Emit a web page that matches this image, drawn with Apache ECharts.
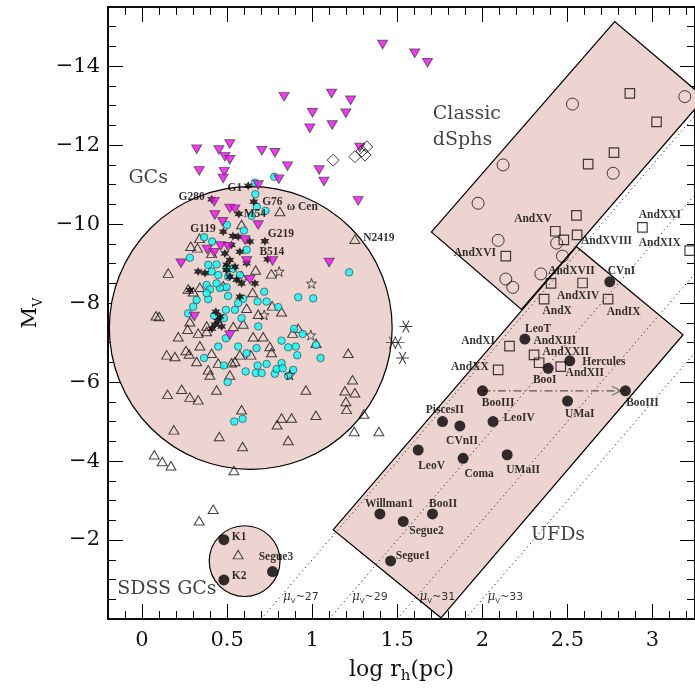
<!DOCTYPE html>
<html><head><meta charset="utf-8">
<script src="https://cdn.jsdelivr.net/npm/echarts@6/dist/echarts.min.js"></script>
<style>html,body{margin:0;padding:0;background:#fff}#c{width:695px;height:690px}</style>
</head><body><div id="c"></div>
<script>
// ---------------- ticks ----------------
const xMajorTicks = [0, 0.5, 1, 1.5, 2, 2.5, 3];
const xMinorTicks = [-0.1,0.1,0.2,0.3,0.4,0.6,0.7,0.8,0.9,1.1,1.2,1.3,1.4,1.6,1.7,1.8,1.9,2.1,2.2,2.3,2.4,2.6,2.7,2.8,2.9,3.1,3.2];
const yMajorTicks = [-14, -12, -10, -8, -6, -4, -2];
const yMinorTicks = [-15,-14.5,-13.5,-13,-12.5,-11.5,-11,-10.5,-9.5,-9,-8.5,-7.5,-7,-6.5,-5.5,-5,-4.5,-3.5,-3,-2.5,-1.5,-1,-0.5];

// ---------------- regions ----------------
const classicBox = [[1.70,-9.80],[2.778,-15.13],[3.307,-13.20],[2.230,-7.84]];
const ufdBox = [[1.123,-2.26],[2.554,-9.43],[3.180,-7.20],[1.757,-0.03]];
const gcCircle = [0.639, -7.37, 0.831];     // centre x, centre y, radius (x units)
const sdssCircle = [0.603, -1.466, 0.208];

// constant surface brightness lines (end points)
const mu27 = [[0.70,0],[3.25,-12.75]];
const mu29 = [[1.10,0],[3.25,-10.75]];
const mu31 = [[1.50,0],[3.25,-8.75]];
const mu33 = [[1.90,0],[3.25,-6.75]];

// ---------------- points ----------------
const magentaTri = [
[1.414,-14.55],[1.603,-14.33],[1.678,-14.09],[0.835,-13.23],[1.114,-13.31],[1.226,-13.14],[1.002,-12.82],[1.198,-12.81],[0.986,-12.43],[1.118,-12.51],
[0.321,-11.90],[0.452,-11.88],[0.516,-12.03],[0.487,-11.71],[0.516,-11.63],[0.704,-11.86],[0.781,-11.81],[0.855,-11.47],[0.336,-11.35],[0.483,-11.33],
[0.477,-11.16],[0.804,-11.14],[0.683,-10.99],[1.041,-11.37],[1.069,-11.08],[1.280,-11.94],[1.270,-10.59],[0.424,-10.57],[0.516,-10.40],[0.546,-10.38],
[0.428,-10.23],[0.474,-10.06],[0.683,-9.98],[0.605,-9.60],[0.383,-9.36],[0.424,-9.28],[0.462,-9.45],[0.506,-9.43],[0.229,-9.01],[0.615,-9.07],
[0.767,-9.07],[1.100,-9.03],[0.634,-8.59],[0.307,-7.66],[0.516,-7.19]
];
const diamonds = [[1.123,-11.62],[1.251,-11.71],[1.292,-11.85],[1.310,-11.75],[1.321,-11.96]];
const blackStars = [
[0.624,-10.97],[0.409,-10.63],[0.657,-10.57],[0.569,-10.26],[0.477,-9.81],[0.722,-9.57],[0.738,-9.11],
[0.565,-9.68],[0.634,-9.56],[0.526,-9.47],[0.575,-9.30],[0.487,-9.26],[0.516,-9.09],[0.615,-9.01],[0.330,-8.80],[0.370,-8.76],[0.497,-8.97],
[0.546,-8.92],[0.516,-8.67],[0.556,-8.59],[0.585,-8.50],[0.663,-8.50],[0.575,-8.16],[0.281,-8.33],[0.434,-7.78],[0.458,-7.66],[0.428,-7.45],
[0.468,-7.41],[0.446,-7.55],[0.534,-9.70],[0.497,-8.84],[0.411,-7.35]
];
const openStars = [[0.806,-8.80],[0.996,-8.50],[0.718,-7.70],[0.992,-7.19],[0.869,-6.18]];
const asterisks = [[1.551,-7.41],[1.472,-7.00],[1.505,-7.00],[1.531,-6.61]];
const cyanGC = [
[0.777,-11.20],[0.663,-11.05],[0.666,-10.76],[0.675,-10.44],[0.726,-10.34],[0.644,-10.21],[0.599,-9.84],[0.499,-9.98],[0.365,-9.67],[0.412,-9.56],
[0.615,-9.35],[0.281,-9.15],[0.389,-8.97],[0.438,-8.98],[0.497,-8.88],[0.536,-8.87],[0.409,-8.80],[0.448,-8.71],[0.575,-8.71],[0.380,-8.46],
[0.399,-8.35],[0.497,-8.40],[0.458,-8.38],[0.718,-8.29],[0.918,-8.15],[1.006,-8.12],[1.217,-8.78],[0.321,-8.08],[0.389,-8.10],[0.595,-8.11],
[0.679,-8.04],[0.732,-8.04],[0.800,-7.90],[0.565,-8.00],[0.301,-7.91],[0.546,-7.83],[0.493,-7.83],[0.271,-7.74],[0.424,-7.68],[0.481,-7.62],
[0.585,-7.62],[0.683,-7.41],[0.493,-7.11],[0.565,-6.90],[0.448,-6.90],[0.615,-6.73],[0.673,-6.86],[0.820,-7.05],[0.894,-7.35],[0.944,-7.22],
[0.904,-6.90],[0.859,-6.88],[0.912,-6.68],[1.022,-6.94],[1.049,-6.61],[0.365,-6.61],[0.481,-6.42],[0.732,-6.46],[0.679,-6.42],[0.820,-6.48],
[0.609,-6.27],[0.669,-6.23],[0.703,-6.23],[0.781,-6.21],[0.791,-6.33],[0.826,-6.35],[0.859,-6.16],[0.888,-6.31],[0.503,-6.00],[0.542,-5.00],
[0.591,-5.07],[0.506,-8.67],[0.438,-8.50],[0.380,-8.25],[0.506,-8.18]
];
const openTri = [
[0.810,-10.32],[0.585,-9.99],[0.338,-9.64],[0.286,-9.44],[0.326,-9.40],[0.154,-8.76],[0.668,-8.84],[0.760,-8.74],[0.585,-8.69],[0.271,-8.36],
[0.301,-8.29],[0.340,-8.40],[0.650,-8.27],[0.477,-8.44],[0.101,-7.66],[0.082,-7.68],[0.213,-7.15],[0.268,-7.34],[0.281,-7.53],[0.330,-7.24],
[0.380,-7.28],[0.380,-7.42],[0.536,-7.41],[0.595,-7.47],[0.615,-7.87],[0.683,-7.72],[0.765,-7.93],[0.820,-7.78],[0.653,-7.15],[0.712,-7.15],
[0.751,-6.90],[0.761,-6.75],[0.885,-7.24],[0.918,-7.36],[1.023,-6.98],[1.212,-6.73],[0.145,-6.69],[0.193,-6.65],[0.258,-6.80],[0.340,-6.92],
[0.277,-6.71],[0.321,-6.52],[0.409,-6.73],[0.448,-6.48],[0.526,-6.49],[0.546,-6.52],[0.575,-6.69],[0.640,-6.69],[0.389,-6.31],[0.399,-6.18],
[0.516,-6.18],[0.150,-5.69],[0.233,-5.82],[0.281,-5.62],[0.330,-5.55],[0.438,-5.80],[0.963,-5.80],[1.192,-5.78],[1.198,-5.51],[1.202,-5.31],
[0.585,-5.30],[1.022,-5.16],[0.820,-5.09],[0.879,-5.09],[0.794,-4.92],[0.187,-4.79],[0.454,-4.62],[0.859,-4.52],[0.591,-4.37],[1.237,-6.06],
[1.251,-5.73],[1.304,-5.19],[1.247,-4.75],[1.392,-4.75],[1.251,-9.62],[0.072,-4.16],[0.119,-3.99],[0.170,-3.88],[0.540,-3.76],[0.418,-2.78],
[0.336,-2.49],[0.565,-1.63],[0.409,-9.26]
];
const filledDots = [
[2.749,-8.54],[2.250,-7.09],[2.387,-6.35],[2.514,-6.54],[2.001,-5.78],[2.841,-5.78],[2.501,-5.52],[2.063,-5.00],[2.146,-4.16],[1.766,-5.00],
[1.868,-4.89],[1.623,-4.28],[1.887,-4.07],[1.398,-2.66],[1.535,-2.47],[1.707,-2.66],[1.461,-1.47],[0.481,-2.01],[0.481,-0.99],[0.767,-1.20]
];
const classicCircles = [[1.975,-10.53],[2.122,-11.50],[2.530,-13.04],[3.190,-13.23],[2.769,-11.29],[2.093,-9.59],[2.437,-9.52],[2.471,-9.19],[2.344,-8.74],[2.138,-8.61],[2.179,-8.40]];
const andSquares = [[2.867,-13.31],[3.024,-12.59],[2.774,-11.81],[2.622,-11.52],[2.553,-10.22],[2.429,-9.82],[2.479,-9.60],[2.557,-9.73],[2.941,-9.92],[3.219,-9.33],
[2.138,-9.19],[2.404,-8.50],[2.589,-8.51],[2.363,-8.10],[2.739,-8.10],[2.160,-6.91],[2.304,-6.69],[2.334,-6.49],[2.461,-6.39],[2.093,-6.31]];
const booIIIArrow = [[2.001,-5.78],[2.841,-5.78]];

// ---------------- text annotations ----------------
const bigLabels = [['GCs',0.036,-11.18,'center'],['Classic',1.709,-12.79,'left'],['dSphs',1.709,-12.12,'left'],['UFDs',2.445,-2.13,'center'],['SDSS GCs',0.146,-0.75,'center']];
const pointLabels = [
['G1',0.546,-10.92],['G280',0.291,-10.68],['G76',0.766,-10.57],['M54',0.663,-10.26],['ω Cen',0.942,-10.44],['G119',0.358,-9.88],['G219',0.816,-9.75],['B514',0.763,-9.30],['N2419',1.392,-9.66],
['AndXV',2.298,-10.12],['AndXVIII',2.730,-9.58],['AndXVI',1.956,-9.28],['AndXXI',3.043,-10.23],['AndXIX',3.043,-9.52],['AndXVII',2.524,-8.82],['CVnI',2.818,-8.82],['AndXIV',2.563,-8.18],
['AndX',2.440,-7.80],['AndIX',2.831,-7.78],['LeoT',2.328,-7.35],['AndXIII',2.426,-7.04],['AndXI',1.975,-7.03],['AndXXII',2.491,-6.75],['Hercules',2.714,-6.50],['AndXII',2.602,-6.23],
['AndXX',1.927,-6.38],['BooI',2.367,-6.06],['BooIII',2.093,-5.47],['BooIII',2.941,-5.47],['UMaI',2.573,-5.19],['LeoIV',2.216,-5.09],['PiscesII',1.780,-5.30],['CVnII',1.881,-4.52],
['LeoV',1.702,-3.88],['Coma',1.981,-3.68],['UMaII',2.240,-3.78],['Willman1',1.452,-2.92],['BooII',1.770,-2.92],['Segue2',1.672,-2.24],['Segue1',1.593,-1.60],
['K1',0.571,-2.07],['K2',0.571,-1.08],['Segue3',0.787,-1.57]
];
const muLabels = [['27',0.934,-0.56],['29',1.339,-0.56],['31',1.736,-0.56],['33',2.135,-0.56]];

// ---------------- styling ----------------
const PINK = '#edd4d0';
const SERIF = 'DejaVu Serif';
const STAR6 = 'path://M0,-10 L2.6,-4.5 L8.66,-5 L5.2,0 L8.66,5 L2.6,4.5 L0,10 L-2.6,4.5 L-8.66,5 L-5.2,0 L-8.66,-5 L-2.6,-4.5 Z';
const STAR5 = 'path://M0,-10 L2.35,-3.24 L9.51,-3.09 L3.8,1.24 L5.88,8.09 L0,4 L-5.88,8.09 L-3.8,1.24 L-9.51,-3.09 L-2.35,-3.24 Z';
const AST = 'path://M-10,0 L10,0 M-5,-8.66 L5,8.66 M-5,8.66 L5,-8.66';
const CHEV = 'path://M0,0 L10,5 L0,10';

function xAx(pos, ticks, len, showLabel, name) {
  const a = {type:'value', position:pos, min:-0.2, max:3.25, splitLine:{show:false},
    axisLine:{show:true, onZero:false, lineStyle:{color:'#000', width:1.6}},
    axisTick:{show:true, inside:true, length:len, customValues:ticks, lineStyle:{color:'#000', width:1}},
    axisLabel:{show:showLabel, customValues:ticks, margin:11, fontFamily:SERIF, fontSize:21, color:'#111'}};
  if (name) {
    a.name = name; a.nameLocation = 'middle'; a.nameGap = 36;
    a.nameTextStyle = {fontFamily:SERIF, fontSize:22, color:'#111', lineHeight:28,
      rich:{sub:{fontFamily:SERIF, fontSize:15, color:'#111', verticalAlign:'bottom', lineHeight:15}}};
  }
  return a;
}
function yAx(pos, ticks, len, showLabel, name) {
  const a = {type:'value', position:pos, min:-15.5, max:0, inverse:true, splitLine:{show:false},
    axisLine:{show:true, onZero:false, lineStyle:{color:'#000', width:1.6}},
    axisTick:{show:true, inside:true, length:len, customValues:ticks, lineStyle:{color:'#000', width:1}},
    axisLabel:{show:showLabel, customValues:ticks, margin:8, fontFamily:SERIF, fontSize:21, color:'#111',
      formatter:v => '\u2212' + Math.abs(v)}};
  if (name) {
    a.name = name; a.nameLocation = 'middle'; a.nameGap = 50; a.nameRotate = 90;
    a.nameTextStyle = {fontFamily:SERIF, fontSize:21, color:'#111', lineHeight:28,
      rich:{sub:{fontFamily:SERIF, fontSize:13, color:'#111', verticalAlign:'bottom', lineHeight:13}}};
  }
  return a;
}

function polySeries(pts) {
  return {type:'custom', coordinateSystem:'cartesian2d', clip:true, silent:true, z:1, data:[pts[0]],
    renderItem:(p, api) => ({type:'polygon', shape:{points:pts.map(v => api.coord(v))},
      style:{fill:PINK, stroke:'#000', lineWidth:1.2}})};
}
function circSeries(c) {
  return {type:'custom', coordinateSystem:'cartesian2d', clip:true, silent:true, z:1, data:[[c[0], c[1]]],
    renderItem:(p, api) => { const ctr = api.coord([c[0], c[1]]); const r = api.size([c[2], 0])[0];
      return {type:'circle', shape:{cx:ctr[0], cy:ctr[1], r:r}, style:{fill:PINK, stroke:'#000', lineWidth:1.2}}; }};
}
function muLine(d) {
  return {type:'line', data:d, showSymbol:false, symbol:'none', silent:true, z:2,
    lineStyle:{color:'#222', width:1, type:[1.2,3.3]}};
}
function sc(data, symbol, size, style, extra) {
  return Object.assign({type:'scatter', data:data, symbol:symbol, symbolSize:size, itemStyle:style, silent:true, z:3}, extra || {});
}
const TRANS = 'rgba(0,0,0,0)';

const series = [
  circSeries(gcCircle), circSeries(sdssCircle), polySeries(classicBox), polySeries(ufdBox),
  muLine(mu27), muLine(mu29), muLine(mu31), muLine(mu33),
  {type:'line', data:booIIIArrow, symbol:'none', silent:true, z:2, lineStyle:{color:'#555', width:1.2, type:[8,3,1.5,3]}},
  sc([booIIIArrow[1]], CHEV, [9,9], {color:TRANS, borderColor:'#555', borderWidth:1.2}, {symbolOffset:[-9,0]}),
  sc(openTri, 'triangle', [10,8.5], {color:TRANS, borderColor:'#111', borderWidth:1}),
  sc(cyanGC, 'circle', 7.5, {color:'#00ffff', borderColor:'#333', borderWidth:0.8}),
  sc(blackStars, STAR6, 9, {color:'#000'}),
  sc(openStars, STAR5, 10, {color:TRANS, borderColor:'#111', borderWidth:0.9}),
  sc(magentaTri, 'triangle', [10,8.5], {color:'#ff00ff', borderColor:'#444', borderWidth:1}, {symbolRotate:180}),
  sc(diamonds, 'diamond', [12,12], {color:TRANS, borderColor:'#111', borderWidth:1}),
  sc(asterisks, AST, [13,12], {color:TRANS, borderColor:'#111', borderWidth:1}),
  sc(classicCircles, 'circle', 12, {color:TRANS, borderColor:'#111', borderWidth:1}),
  sc(andSquares, 'rect', 9.5, {color:TRANS, borderColor:'#111', borderWidth:1.2}),
  sc(filledDots, 'circle', 11, {color:'#000'}),
  {type:'scatter', silent:true, z:5, symbol:'circle', symbolSize:0.1, itemStyle:{color:TRANS},
    data:bigLabels.map(l => ({name:l[0], value:[l[1], l[2]], label:{align:l[3]}})),
    label:{show:true, position:'inside', formatter:'{b}', fontFamily:SERIF, fontSize:19, color:'#111'}},
  {type:'scatter', silent:true, z:5, symbol:'circle', symbolSize:0.1, itemStyle:{color:TRANS},
    data:pointLabels.map(l => ({name:l[0], value:[l[1], l[2]]})),
    label:{show:true, position:'inside', formatter:'{b}', fontFamily:'Liberation Serif', fontWeight:'bold', fontSize:11.5, color:'#000'}},
  {type:'scatter', silent:true, z:5, symbol:'circle', symbolSize:0.1, itemStyle:{color:TRANS},
    data:muLabels.map(l => ({name:l[0], value:[l[1], l[2]]})),
    label:{show:true, position:'inside', formatter:p => '{mu|μ}{sub|V}~' + p.name, fontFamily:'DejaVu Sans', fontSize:11, color:'#000', lineHeight:15,
      rich:{mu:{fontFamily:'DejaVu Serif', fontStyle:'italic', fontSize:12, color:'#000'},
            sub:{fontFamily:'DejaVu Sans', fontSize:7, color:'#000', verticalAlign:'bottom', lineHeight:8}}}}
];
series.forEach(s => { s.xAxisIndex = 0; s.yAxisIndex = 0; s.animation = false; });

const chart = echarts.init(document.getElementById('c'), null, {renderer:'canvas'});
chart.setOption({
  animation:false,
  backgroundColor:'#fff',
  grid:{left:108, right:-1, top:7, bottom:71, containLabel:false},
  xAxis:[xAx('bottom', xMajorTicks, 15, true, 'log r{sub|h}(pc)'), xAx('bottom', xMinorTicks, 8, false),
         xAx('top', xMajorTicks, 15, false), xAx('top', xMinorTicks, 8, false)],
  yAxis:[yAx('left', yMajorTicks, 15, true, 'M{sub|V}'), yAx('left', yMinorTicks, 8, false),
         yAx('right', yMajorTicks, 15, false), yAx('right', yMinorTicks, 8, false)],
  series:series
});
</script></body></html>
